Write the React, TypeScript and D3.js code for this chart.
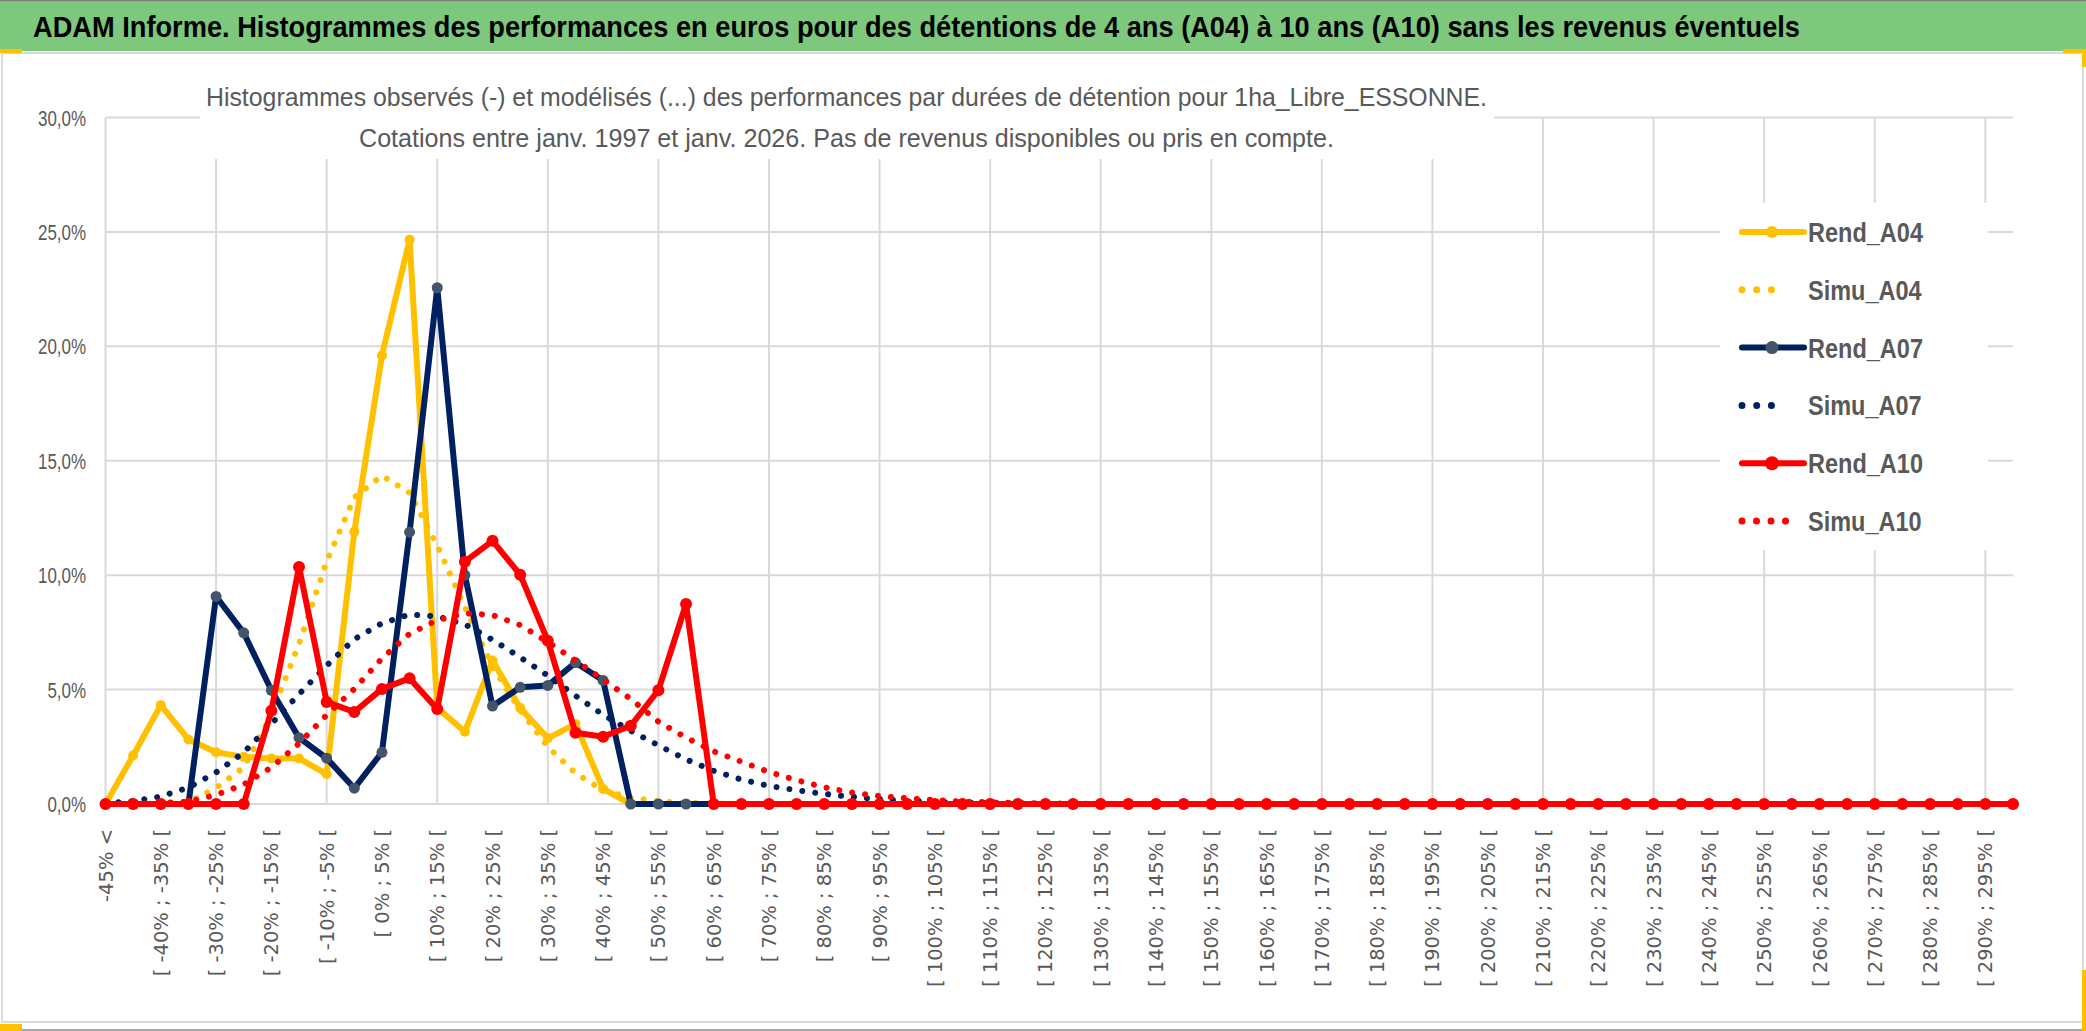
import * as d3 from "d3";

// Classes de performance (pas de 5 %)
const categories = [
  "-45% <", "[ -45% ; -40% [", "[ -40% ; -35% [", "[ -35% ; -30% [", "[ -30% ; -25% [",
  "[ -25% ; -20% [", "[ -20% ; -15% [", "[ -15% ; -10% [", "[ -10% ; -5% [", "[ -5% ; 0% [",
  "[ 0% ; 5% [", "[ 5% ; 10% [", "[ 10% ; 15% [", "[ 15% ; 20% [", "[ 20% ; 25% [",
  "[ 25% ; 30% [", "[ 30% ; 35% [", "[ 35% ; 40% [", "[ 40% ; 45% [", "[ 45% ; 50% [",
  "[ 50% ; 55% [", "[ 55% ; 60% [", "[ 60% ; 65% [", "[ 65% ; 70% [", "[ 70% ; 75% [",
  "[ 75% ; 80% [", "[ 80% ; 85% [", "[ 85% ; 90% [", "[ 90% ; 95% [", "[ 95% ; 100% [",
  "[ 100% ; 105% [", "[ 105% ; 110% [", "[ 110% ; 115% [", "[ 115% ; 120% [", "[ 120% ; 125% [",
  "[ 125% ; 130% [", "[ 130% ; 135% [", "[ 135% ; 140% [", "[ 140% ; 145% [", "[ 145% ; 150% [",
  "[ 150% ; 155% [", "[ 155% ; 160% [", "[ 160% ; 165% [", "[ 165% ; 170% [", "[ 170% ; 175% [",
  "[ 175% ; 180% [", "[ 180% ; 185% [", "[ 185% ; 190% [", "[ 190% ; 195% [", "[ 195% ; 200% [",
  "[ 200% ; 205% [", "[ 205% ; 210% [", "[ 210% ; 215% [", "[ 215% ; 220% [", "[ 220% ; 225% [",
  "[ 225% ; 230% [", "[ 230% ; 235% [", "[ 235% ; 240% [", "[ 240% ; 245% [", "[ 245% ; 250% [",
  "[ 250% ; 255% [", "[ 255% ; 260% [", "[ 260% ; 265% [", "[ 265% ; 270% [", "[ 270% ; 275% [",
  "[ 275% ; 280% [", "[ 280% ; 285% [", "[ 285% ; 290% [", "[ 290% ; 295% [", "[ 295% ; 300% [",
];

// valeurs en %
const rendA04 = [
  0, 2.12, 4.32, 2.82, 2.26, 2.06, 1.99, 1.99, 1.31, 11.9,
  19.6, 24.66, 4.2, 3.16, 6.27, 4.2, 2.87, 3.5, 0.66, 0,
  0, 0, 0, 0, 0, 0, 0, 0, 0, 0,
  0, 0, 0, 0, 0, 0, 0, 0, 0, 0,
  0, 0, 0, 0, 0, 0, 0, 0, 0, 0,
  0, 0, 0, 0, 0, 0, 0, 0, 0, 0,
  0, 0, 0, 0, 0, 0, 0, 0, 0, 0,
];
const simuA04 = [
  0, 0, 0.01, 0.1, 0.7, 1.6, 3.9, 7.0, 10.6, 13.4,
  14.35, 13.6, 11.3, 8.6, 6.0, 4.1, 2.5, 1.35, 0.6, 0.28,
  0.12, 0.05, 0.02, 0.01, 0, 0, 0, 0, 0, 0,
  0, 0, 0, 0, 0, 0, 0, 0, 0, 0,
  0, 0, 0, 0, 0, 0, 0, 0, 0, 0,
  0, 0, 0, 0, 0, 0, 0, 0, 0, 0,
  0, 0, 0, 0, 0, 0, 0, 0, 0, 0,
];
const rendA07 = [
  0, 0, 0, 0, 9.07, 7.48, 4.97, 2.9, 2.0, 0.69,
  2.26, 11.88, 22.56, 10.0, 4.28, 5.1, 5.18, 6.18, 5.4, 0,
  0, 0, 0, 0, 0, 0, 0, 0, 0, 0,
  0, 0, 0, 0, 0, 0, 0, 0, 0, 0,
  0, 0, 0, 0, 0, 0, 0, 0, 0, 0,
  0, 0, 0, 0, 0, 0, 0, 0, 0, 0,
  0, 0, 0, 0, 0, 0, 0, 0, 0, 0,
];
const simuA07 = [
  0.03, 0.12, 0.33, 0.72, 1.38, 2.25, 3.5, 4.8, 6.05, 7.2,
  7.9, 8.28, 8.2, 7.85, 7.18, 6.41, 5.61, 4.73, 3.9, 3.2,
  2.56, 1.95, 1.45, 1.07, 0.79, 0.6, 0.44, 0.31, 0.21, 0.14,
  0.09, 0.06, 0.04, 0.02, 0.01, 0, 0, 0, 0, 0,
  0, 0, 0, 0, 0, 0, 0, 0, 0, 0,
  0, 0, 0, 0, 0, 0, 0, 0, 0, 0,
  0, 0, 0, 0, 0, 0, 0, 0, 0, 0,
];
const rendA10 = [
  0, 0, 0, 0, 0, 0, 4.08, 10.36, 4.46, 4.02,
  5.03, 5.49, 4.15, 10.59, 11.5, 10.02, 7.13, 3.11, 2.94, 3.42,
  4.97, 8.74, 0, 0, 0, 0, 0, 0, 0, 0,
  0, 0, 0, 0, 0, 0, 0, 0, 0, 0,
  0, 0, 0, 0, 0, 0, 0, 0, 0, 0,
  0, 0, 0, 0, 0, 0, 0, 0, 0, 0,
  0, 0, 0, 0, 0, 0, 0, 0, 0, 0,
];
const simuA10 = [
  0, 0.01, 0.04, 0.1, 0.4, 0.85, 1.6, 2.64, 3.89, 5.03,
  6.36, 7.44, 8.03, 8.33, 8.26, 7.82, 7.08, 6.27, 5.44, 4.59,
  3.6, 2.9, 2.3, 1.85, 1.4, 1.04, 0.73, 0.5, 0.35, 0.25,
  0.17, 0.11, 0.07, 0.04, 0.03, 0.02, 0.01, 0, 0, 0,
  0, 0, 0, 0, 0, 0, 0, 0, 0, 0,
  0, 0, 0, 0, 0, 0, 0, 0, 0, 0,
  0, 0, 0, 0, 0, 0, 0, 0, 0, 0,
];

const yTicks = [0, 5, 10, 15, 20, 25, 30];
const yTickLabels = ["0,0%", "5,0%", "10,0%", "15,0%", "20,0%", "25,0%", "30,0%"];

const title =
  "ADAM Informe. Histogrammes des performances en euros pour des détentions de 4 ans (A04) à 10 ans (A10) sans les revenus éventuels";
const subtitle1 =
  "Histogrammes observés (-) et modélisés (...) des performances par durées de détention pour 1ha_Libre_ESSONNE.";
const subtitle2 =
  "Cotations entre janv. 1997 et janv. 2026. Pas de revenus disponibles ou pris en compte.";

const series = [
  { name: "Rend_A04", values: rendA04, color: "#FFC000", dotted: false, marker: "#FFC000", r: 5 },
  { name: "Simu_A04", values: simuA04, color: "#FFC000", dotted: true },
  { name: "Rend_A07", values: rendA07, color: "#002060", dotted: false, marker: "#44546A", r: 5.5 },
  { name: "Simu_A07", values: simuA07, color: "#002060", dotted: true },
  { name: "Rend_A10", values: rendA10, color: "#FF0000", dotted: false, marker: "#FF0000", r: 6 },
  { name: "Simu_A10", values: simuA10, color: "#FF0000", dotted: true },
];

const W = 2086;
const H = 1031;
const grey = "#595959";
const grid = "#D9D9D9";

export default function App() {
  const x = d3.scalePoint<string>().domain(categories).range([105.5, 2013]);
  const y = d3.scaleLinear().domain([0, 30]).range([804, 117.5]);

  const line = d3
    .line<number>()
    .x((_, i) => x(categories[i]) as number)
    .y((d) => y(d));

  return (
    <div style={{ position: "absolute", left: 0, top: 0 }}>
      <svg width={W} height={H} style={{ display: "block", background: "#fff" }}>
        {/* bandeau titre */}
        <rect x={0} y={0} width={W} height={51} fill="#7DC87C" />
        <line x1={0} x2={W} y1={0.5} y2={0.5} stroke="#7F7F7F" strokeWidth={1.5} />
        <text
          x={33}
          y={37}
          fontFamily="'Liberation Sans', Arial, sans-serif"
          fontWeight="bold"
          fontSize={29}
          fill="#000"
          textLength={1767}
          lengthAdjust="spacingAndGlyphs"
        >
          {title}
        </text>

        {/* cadre du graphique */}
        <rect x={2} y={53} width={2081} height={969} fill="#fff" stroke={grid} strokeWidth={2} />
        <line x1={0} x2={W} y1={1030} y2={1030} stroke="#A6A6A6" strokeWidth={2} />
        <rect x={0} y={49} width={22} height={4} fill="#FFC000" />
        <rect x={0} y={1024} width={22} height={7} fill="#FFC000" />
        <rect x={2063} y={49} width={23} height={4} fill="#FFC000" />
        <rect x={2082} y={49} width={4} height={18} fill="#FFC000" />
        <rect x={2082} y={970} width={4} height={61} fill="#FFC000" />

        {/* grille */}
        {yTicks.map((t) => (
          <line key={"h" + t} x1={105.5} x2={2013} y1={y(t)} y2={y(t)} stroke={grid} strokeWidth={2} />
        ))}
        {categories
          .filter((_, i) => i % 4 === 0)
          .map((c) => (
            <line key={"v" + c} x1={x(c)} x2={x(c)} y1={y(30)} y2={y(0)} stroke={grid} strokeWidth={2} />
          ))}

        {/* axe Y */}
        {yTicks.map((t, i) => (
          <text
            key={"yl" + t}
            transform={`translate(86,${y(t) + 8}) scale(0.77,1)`}
            textAnchor="end"
            fontFamily="'Liberation Sans', Arial, sans-serif"
            fontSize={22}
            fill={grey}
          >
            {yTickLabels[i]}
          </text>
        ))}

        {/* axe X */}
        {categories.map((c, i) =>
          i % 2 === 0 ? (
            <text
              key={"xl" + c}
              transform={`translate(${x(c)},829) rotate(-90)`}
              textAnchor="end"
              dy="0.36em"
              fontFamily="'DejaVu Sans', Verdana, sans-serif"
              fontSize={19.5}
              fill={grey}
            >
              {c}
            </text>
          ) : null
        )}

        {/* fond du titre et de la légende */}
        <rect x={200} y={60} width={1294} height={99} fill="#fff" />
        <rect x={1720} y={203} width={268} height={347} fill="#fff" />

        <text
          x={206}
          y={106}
          fontFamily="'Liberation Sans', Arial, sans-serif"
          fontSize={26}
          fill={grey}
          textLength={1281}
          lengthAdjust="spacingAndGlyphs"
        >
          {subtitle1}
        </text>
        <text
          x={359}
          y={146.5}
          fontFamily="'Liberation Sans', Arial, sans-serif"
          fontSize={26}
          fill={grey}
          textLength={975}
          lengthAdjust="spacingAndGlyphs"
        >
          {subtitle2}
        </text>

        {/* séries */}
        {series.map((s) => (
          <g key={s.name}>
            <path
              d={line(s.values) || ""}
              fill="none"
              stroke={s.color}
              strokeWidth={6}
              strokeLinejoin="round"
              strokeLinecap="round"
              strokeDasharray={s.dotted ? "0.01 13" : undefined}
            />
            {!s.dotted &&
              s.values.map((v, i) => (
                <circle key={i} cx={x(categories[i])} cy={y(v)} r={s.r} fill={s.marker} />
              ))}
          </g>
        ))}

        {/* légende */}
        {series.map((s, i) => {
          const cy = 232 + i * 57.8;
          const x2 = s.dotted ? (s.name === "Simu_A10" ? 1800 : 1786) : 1804;
          return (
            <g key={"lg" + s.name}>
              <line
                x1={1742}
                x2={x2}
                y1={cy}
                y2={cy}
                stroke={s.color}
                strokeWidth={s.dotted ? 7 : 6}
                strokeLinecap="round"
                strokeDasharray={s.dotted ? (s.name === "Simu_A10" ? "0.01 14.5" : "0.01 14.7") : undefined}
              />
              {!s.dotted && <circle cx={1772} cy={cy} r={s.r + 1} fill={s.marker} />}
              <text
                transform={`translate(1808,${cy + 10}) scale(0.84,1)`}
                fontFamily="'Liberation Sans', Arial, sans-serif"
                fontWeight="bold"
                fontSize={28}
                fill={grey}
              >
                {s.name}
              </text>
            </g>
          );
        })}
      </svg>
    </div>
  );
}
